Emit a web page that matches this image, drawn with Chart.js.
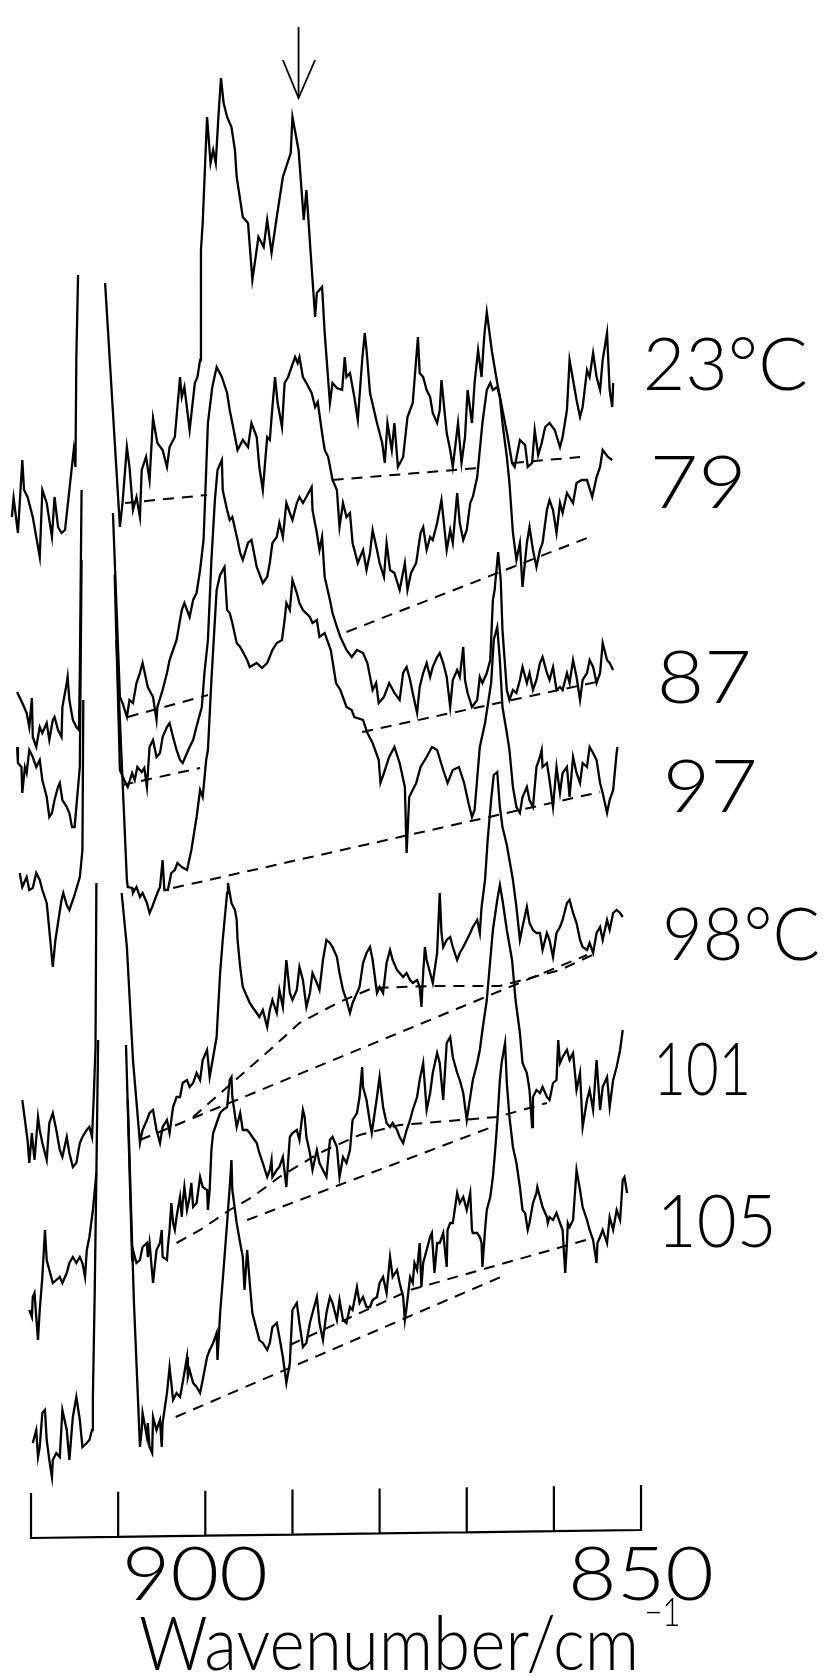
<!DOCTYPE html>
<html>
<head>
<meta charset="utf-8">
<title>IR spectra vs temperature</title>
<script src="https://cdn.jsdelivr.net/npm/chart.js@4.4.1/dist/chart.umd.min.js"></script>
<style>
  html, body { margin: 0; padding: 0; background: #fff; }
  canvas { display: block; }
</style>
</head>
<body>
<canvas id="spectra" width="829" height="1678"></canvas>
<script>
// x: wavenumber / cm-1, y: absorbance (arbitrary, spectra offset vertically)
// a [wn, null] point marks where the pen ran off scale on the strong band

const axisTicks = [920, 910, 900, 890, 880, 870, 860, 850];
const axisBase = [0.62, 0.70];   // baseline height at 920 and at 850
const tickHeight = 0.45;
const tickLabels = ['900', '850'];
const tickLabelWn = [901.2, 850.0];

const tempLabels = ['23°C', '79', '87', '97', '98°C', '101', '105'];
const tempLabelWn = [849.8, 849.0, 848.2, 847.5, 847.6, 848.6, 848.2];
const tempLabelAb = [12.10, 10.92, 8.97, 7.88, 6.40, 5.05, 3.53];
const tempLabelWidth = [165, 97, 95, 95, 158, 98, 120];

const s23 = [
  [922.2,10.83],[922.0,11.02],[921.5,10.67],[921.0,11.40],[920.8,11.10],[920.4,11.03],[919.8,10.83],[919.0,10.43],[918.7,11.10],[918.2,10.97],
  [917.6,10.63],[917.3,11.03],[916.9,10.73],[916.5,10.67],[916.1,10.70],[915.6,11.10],[915.1,11.50],[914.9,11.33],[914.8,12.43],[914.6,13.25],
  [913.0,null],
  [911.5,13.17],[909.8,10.73],[909.5,10.97],[909.0,11.53],[908.7,11.33],[908.3,10.90],[907.9,11.03],[907.5,10.83],[907.3,11.30],[906.8,11.43],
  [906.4,11.20],[906.0,11.82],[905.5,11.57],[904.9,11.50],[904.4,11.33],[904.1,11.53],[903.5,11.63],[902.9,12.23],[902.7,12.03],[902.4,12.13],
  [901.8,11.70],[901.2,12.17],[900.9,12.23],[900.6,12.40],
  [900.5,13.50],[900.3,13.77],[899.8,14.83],[899.4,14.37],[899.1,14.50],[898.8,14.37],[898.5,14.83],[898.2,15.22],[897.9,14.97],[897.5,14.83],
  [897.0,14.73],[896.6,14.50],[896.4,14.23],[895.7,13.83],[895.1,13.77],[894.6,13.20],[893.9,13.63],[893.3,13.53],[892.9,13.80],[892.4,13.47],
  [891.8,13.83],[891.1,14.23],[890.2,14.47],[890.0,14.83],[889.3,14.50],[888.7,13.80],[888.4,14.10],[887.8,13.33],[887.4,12.83],[887.2,13.07],
  [886.6,13.13],[886.3,12.67],[885.7,11.97],[885.4,12.17],[884.9,12.12],[884.3,12.10],[884.0,12.43],[883.8,12.23],[883.4,12.27],[882.9,12.03],
  [882.5,11.80],[882.0,12.40],[881.7,12.67],[881.5,12.50],[881.1,12.07],[880.3,11.77],[879.7,11.57],[879.4,11.37],[879.1,11.77],[878.6,11.50],
  [878.3,11.77],[877.9,11.33],[877.3,11.43],[876.8,11.83],[876.2,11.97],[875.6,12.63],[875.4,12.27],[875.0,12.23],[874.6,12.10],[874.2,12.03],
  [873.9,11.87],[873.4,11.77],[873.1,11.90],[872.9,12.20],[872.3,11.67],[871.9,11.50],[871.6,11.33],[871.0,11.77],[870.6,11.37],[870.2,11.63],
  [869.9,12.10],[869.4,11.77],[869.1,12.17],[868.7,12.50],[868.3,12.23],[868.0,12.63],[867.7,12.88],
  [867.1,12.48],[866.5,12.17],[865.9,11.90],[865.3,11.63],[864.8,11.37],[864.5,11.33],[863.9,11.60],[863.3,11.55],[863.0,11.33],[862.5,11.37],
  [862.2,11.70],[861.8,11.45],[861.4,11.57],[861.0,11.73],[860.5,11.77],[859.9,11.70],[859.3,11.53],[859.0,11.63],[858.5,11.90],[858.2,12.40],
  [857.8,12.20],[857.4,12.00],[857.0,11.83],[856.7,11.93],[856.2,12.30],[855.9,12.23],[855.5,12.47],[855.1,12.23],[854.7,12.10],[854.4,12.40],
  [853.9,12.67],[853.6,12.10],[853.3,11.93],[853.2,12.17]
];

const s79 = [
  [921.6,9.08],[921.0,8.97],[920.5,8.87],[920.2,8.73],[919.9,9.02],[919.8,8.63],[919.4,8.53],[919.0,8.73],[918.7,8.67],[918.2,8.77],
  [917.9,8.60],[917.5,8.80],[917.3,8.83],[916.9,8.70],[916.5,8.63],[916.4,8.93],[915.9,9.17],[915.8,9.23],[915.6,9.00],[915.2,8.80],
  [914.8,8.73],[914.5,8.70],[914.4,9.27],[914.2,11.10],
  [912.5,null],
  [910.6,10.87],[909.8,9.03],[909.5,8.97],[909.0,8.83],[908.7,9.00],[908.3,8.97],[907.9,9.17],[907.5,9.27],[907.2,9.37],[906.6,9.13],
  [906.0,9.03],[905.6,8.80],[905.5,8.93],[904.9,9.10],[904.4,9.27],[904.1,9.40],[903.7,9.50],[903.3,9.60],[902.7,9.90],[902.4,9.97],
  [901.8,9.83],[901.4,10.00],[901.0,10.07],[900.6,10.30],[900.2,10.60],[899.7,11.77],[899.2,12.13],[898.7,12.33],[898.1,12.23],[897.5,12.07],
  [897.2,11.90],[896.9,11.77],[896.3,11.50],[895.7,11.60],[895.1,11.53],[894.7,11.77],[894.1,11.63],[893.8,11.33],[893.4,11.10],[892.9,11.63],
  [892.6,11.60],[892.3,11.93],[892.0,12.23],[891.7,11.97],[891.2,11.73],[890.9,12.17],[890.5,12.23],[890.1,12.33],[889.7,12.43],[889.4,12.37],
  [889.2,12.43],[888.8,12.23],[888.4,12.17],[887.8,12.07],[887.4,11.93],[887.1,11.98],[886.6,11.67],[886.3,11.50],[885.9,11.43],[885.4,11.20],
  [884.9,11.10],[884.6,10.73],[884.2,10.97],[883.8,10.83],[883.4,10.87],[883.1,10.57],[882.5,10.37],[881.9,10.50],[881.5,10.30],[881.1,10.47],
  [880.8,10.70],[880.3,10.50],[880.0,10.37],[879.5,10.23],[879.2,10.57],[878.8,10.30],[878.3,10.27],[877.7,10.10],[877.1,10.37],[876.8,10.10],
  [876.4,10.27],[875.8,10.37],[875.3,10.67],[875.0,10.73],[874.6,10.50],[874.2,10.63],[873.9,10.60],[873.4,10.77],[872.9,11.00],[872.3,10.50],
  [871.9,10.70],[871.6,10.57],[871.1,11.07],[870.8,10.77],[870.4,10.60],[870.0,10.70],[869.6,10.97],[869.3,11.03],[868.8,11.23],[868.5,11.50],
  [868.2,11.77],[867.7,12.10],[867.3,12.17],[867.0,12.10],[866.5,12.13],[866.2,12.03],[865.9,11.77],[865.4,11.43],[865.1,11.17],[864.7,10.67],
  [864.3,10.40],[863.9,10.57],[863.6,10.13],[863.1,10.57],[862.8,10.73],[862.4,10.50],[862.0,10.33],[861.6,10.50],[861.3,10.57],[860.8,10.90],
  [860.5,11.00],[860.1,10.90],[859.7,10.67],[859.3,10.97],[859.0,10.87],[858.5,11.07],[857.8,10.97],[857.4,11.17],[856.8,11.20],[856.2,11.20],
  [855.6,11.03],[855.1,11.23],[854.7,11.33],[854.4,11.50],[853.8,11.43],[853.3,11.40]
];

const s87 = [
  [921.6,8.53],[921.5,8.37],[921.1,8.33],[921.0,8.07],[920.7,8.33],[920.5,8.27],[920.2,8.50],[919.8,8.43],[919.4,8.33],[919.0,8.40],
  [918.7,8.20],[918.2,8.03],[917.9,7.83],[917.6,7.87],[917.3,8.00],[916.9,8.13],[916.7,8.17],[916.4,8.00],[915.9,7.93],[915.6,7.87],
  [915.3,7.73],[915.0,7.73],[914.6,8.13],[914.4,8.33],[914.2,10.40],
  [912.5,null],
  [910.4,10.25],[909.8,8.30],[909.3,8.20],[908.9,8.13],[908.4,8.27],[908.1,8.20],[907.8,8.33],[907.3,8.28],[907.0,8.32],[906.7,8.13],
  [906.4,8.53],[906.0,8.60],[905.6,8.43],[905.2,8.47],[904.9,8.63],[904.4,8.73],[904.1,8.77],[903.7,8.63],[903.3,8.50],[902.9,8.40],
  [902.6,8.37],[902.1,8.47],[901.8,8.53],[901.4,8.60],[900.9,8.77],[900.4,8.93],[900.1,9.27],[899.7,9.60],[899.3,10.40],[898.9,11.00],
  [898.6,11.30],[898.1,11.40],[898.0,11.10],[897.5,10.90],[897.2,10.80],[896.9,10.83],[896.3,10.60],[896.0,10.47],[895.7,10.40],[895.1,10.57],
  [894.7,10.60],[894.1,10.33],[893.4,10.17],[892.9,10.23],[892.6,10.37],[892.3,10.57],[891.8,10.63],[891.5,10.77],[891.1,10.63],[890.7,10.97],
  [890.3,10.87],[890.0,10.80],[889.5,10.97],[889.2,11.03],[888.8,10.97],[888.4,11.03],[887.8,11.13],[887.7,10.90],[887.2,10.67],[886.9,10.50],
  [886.6,10.63],[886.3,10.23],[885.7,10.00],[885.4,9.87],[884.9,9.73],[884.5,9.63],[883.8,9.50],[883.2,9.43],[882.6,9.50],[881.9,9.47],
  [881.4,9.37],[880.8,9.10],[880.4,9.17],[880.1,8.97],[879.5,9.03],[878.9,9.17],[878.3,9.07],[877.7,9.00],[877.3,9.27],[876.9,9.33],
  [876.5,9.20],[876.2,9.07],[875.7,8.87],[875.4,9.13],[875.0,9.27],[874.6,9.37],[874.2,9.23],[873.9,9.33],[873.4,9.43],[873.1,9.47],
  [872.7,9.37],[872.3,9.23],[871.9,8.93],[871.6,9.20],[871.1,9.30],[870.8,9.23],[870.4,9.53],[870.2,9.20],[869.9,9.07],[869.4,8.93],
  [868.8,9.00],[868.5,9.23],[868.2,9.17],[867.7,9.27],[867.3,9.40],[867.0,10.00],[866.8,10.10],[866.4,10.48],[866.1,10.20],[865.9,9.70],
  [865.4,9.10],[865.1,9.00],[864.7,9.10],[864.3,9.07],[863.9,9.20],[863.6,9.33],[863.1,9.17],[862.8,9.27],[862.4,9.10],[862.0,9.20],
  [861.6,9.37],[861.3,9.43],[860.8,9.27],[860.5,9.20],[860.1,9.33],[859.7,9.10],[859.3,9.13],[859.0,9.10],[858.5,9.27],[858.2,9.17],
  [857.8,9.40],[857.4,9.23],[857.0,9.00],[856.7,9.20],[856.2,9.27],[855.9,9.40],[855.5,9.33],[855.1,9.17],[854.7,9.27],[854.4,9.57],
  [853.9,9.40],[853.6,9.37],[853.2,9.30]
];

const s97 = [
  [921.3,7.27],[921.0,7.13],[920.5,7.23],[920.2,7.10],[919.8,7.12],[919.4,7.27],[919.0,7.20],[918.7,7.10],[918.2,6.97],[917.9,6.70],
  [917.5,6.33],[917.2,6.60],[916.8,6.83],[916.5,7.00],[916.3,7.07],[915.9,6.95],[915.6,6.90],[915.0,7.05],[914.4,7.23],[914.1,7.50],
  [914.0,9.00],
  [912.0,null],
  [910.2,9.60],[909.0,7.20],[908.9,7.13],[908.4,7.12],[908.3,7.07],[907.9,7.13],[907.5,7.03],[907.2,7.07],[906.7,6.97],[906.4,6.87],
  [906.1,6.93],[905.8,7.00],[905.5,7.07],[905.2,7.13],[904.9,7.40],[904.7,7.10],[904.3,7.10],[903.9,7.27],[903.5,7.30],[903.2,7.37],
  [902.7,7.33],[902.1,7.30],[901.6,7.50],[901.0,7.83],[900.6,8.10],[900.3,8.03],[899.9,8.40],[899.7,8.50],[899.3,9.20],[898.7,10.10],
  [898.3,10.25],[897.8,10.33],[897.5,9.90],[897.2,9.87],[896.9,9.77],[896.4,9.57],[896.0,9.53],[895.2,9.40],[894.9,9.33],[894.1,9.37],
  [893.5,9.32],[892.9,9.37],[892.3,9.50],[891.8,9.57],[891.2,9.60],[890.9,9.80],[890.7,9.97],[890.3,9.90],[890.0,10.20],[889.5,10.07],
  [889.2,9.97],[888.8,9.90],[888.0,9.83],[887.7,9.77],[887.2,9.80],[886.9,9.63],[886.3,9.67],[885.6,9.50],[885.0,9.17],[884.5,9.10],
  [883.8,8.93],[883.2,8.90],[882.9,8.83],[881.9,8.80],[881.4,8.67],[880.8,8.57],[880.1,8.40],[879.9,8.17],[879.5,8.27],[878.9,8.43],
  [878.3,8.53],[877.7,8.37],[877.1,8.13],[876.9,7.47],[876.6,8.03],[876.2,8.10],[875.8,8.17],[875.3,8.33],[874.6,8.43],[874.0,8.53],
  [873.4,8.50],[872.7,8.30],[872.2,8.17],[871.6,8.30],[870.9,8.33],[870.3,8.17],[869.8,7.97],[869.4,7.83],[869.1,7.90],[868.5,8.53],
  [867.9,8.77],[867.2,9.17],[866.9,9.60],[866.5,9.73],[866.2,9.40],[865.9,8.93],[865.4,8.67],[865.1,8.50],[864.7,8.13],[864.3,7.93],
  [863.9,7.87],[863.6,8.03],[863.1,8.13],[862.8,8.00],[862.4,7.93],[862.0,8.33],[861.6,8.43],[861.4,8.50],[861.3,8.33],[860.8,8.37],
  [860.5,8.20],[860.1,7.93],[859.7,8.33],[859.3,8.07],[859.0,8.27],[858.5,8.33],[858.2,8.03],[857.8,8.43],[857.4,8.27],[857.0,8.17],
  [856.7,8.37],[856.2,8.33],[855.9,8.53],[855.5,8.47],[855.1,8.40],[854.7,8.17],[854.4,8.07],[853.9,7.87],[853.6,8.00],[853.2,8.10],
  [852.8,8.47],[852.7,8.53]
];

const s98 = [
  [921.0,5.00],[920.7,4.80],[920.4,4.60],[920.2,4.37],[919.9,4.67],[919.8,4.57],[919.6,4.40],[919.2,4.83],[919.0,4.70],[918.7,4.57],
  [918.2,4.40],[917.9,4.77],[917.5,4.87],[917.1,4.70],[916.7,4.50],[916.4,4.43],[915.9,4.63],[915.6,4.47],[915.2,4.33],[914.8,4.37],
  [914.4,4.57],[914.1,4.63],[913.6,4.70],[913.3,4.73],[913.0,4.63],[912.8,5.03],[912.6,5.53],[912.5,7.17],
  [911.0,null],
  [909.6,7.07],[909.0,6.53],[908.3,5.40],[907.5,4.57],[907.2,4.70],[906.7,4.80],[906.4,4.87],[906.0,4.90],[905.6,4.70],[905.2,4.57],
  [904.9,4.73],[904.4,4.80],[904.1,4.67],[903.7,4.93],[903.3,5.03],[902.9,5.03],[902.6,5.17],[902.1,5.20],[901.8,5.13],[901.4,5.17],
  [901.0,5.27],[900.6,5.20],[900.3,5.40],[899.8,5.50],[899.5,5.23],[899.1,5.43],[898.7,5.63],[898.6,5.80],[898.3,6.27],[898.0,6.60],
  [897.5,7.07],[897.4,7.17],[897.0,6.97],[896.6,6.90],[896.4,6.80],[896.3,6.60],[896.0,6.33],[895.7,6.13],[895.2,6.03],[894.9,5.97],
  [894.6,5.93],[894.1,5.87],[893.8,5.83],[893.4,5.90],[892.9,5.73],[892.6,5.90],[892.3,6.00],[891.8,5.87],[891.5,6.10],[891.1,5.93],
  [890.7,6.40],[890.3,6.07],[890.0,6.00],[889.5,6.10],[889.2,6.33],[888.8,6.20],[888.4,5.93],[888.0,6.07],[887.7,6.27],[887.2,6.17],
  [886.9,6.10],[886.5,6.40],[886.1,6.60],[885.7,6.57],[885.4,6.53],[884.9,6.43],[884.6,6.27],[884.2,6.10],[883.8,6.00],[883.4,5.87],
  [883.1,5.97],[882.6,6.07],[882.3,6.13],[881.9,6.37],[881.5,6.47],[881.1,6.53],[880.8,6.40],[880.3,6.07],[880.0,6.13],[879.6,6.07],
  [879.2,6.37],[878.8,6.50],[878.5,6.40],[878.0,6.30],[877.7,6.27],[877.3,6.23],[876.9,6.27],[876.5,6.20],[876.2,6.17],[875.7,6.20],
  [875.4,6.13],[875.2,5.93],[875.0,6.27],[874.8,6.53],[874.6,6.40],[874.2,6.27],[873.9,6.17],[873.4,6.47],[873.1,7.07],[872.9,6.67],
  [872.7,6.53],[872.3,6.60],[871.9,6.63],[871.6,6.53],[871.1,6.40],[870.8,6.47],[870.4,6.53],[870.0,6.60],[869.6,6.67],[869.3,6.73],
  [868.8,6.80],[868.5,6.67],[868.3,6.93],[867.9,7.20],[867.6,7.60],[867.2,8.00],[866.9,8.25],[866.5,8.28],[866.2,7.93],[865.9,7.73],
  [865.4,7.55],[865.1,7.40],[864.7,7.20],[864.3,6.93],[863.9,6.60],[863.6,6.73],[863.1,6.93],[862.8,6.77],[862.4,6.70],[862.0,6.67],
  [861.6,6.67],[861.3,6.50],[860.8,6.67],[860.5,6.60],[860.1,6.43],[859.7,6.67],[859.3,6.73],[859.0,6.80],[858.5,6.97],[858.2,7.00],
  [857.8,6.87],[857.4,6.77],[857.0,6.60],[856.7,6.53],[856.2,6.50],[855.9,6.57],[855.5,6.47],[855.1,6.67],[854.7,6.73],[854.4,6.60],
  [853.9,6.80],[853.6,6.70],[853.2,6.87],[852.8,6.90],[852.4,6.87],[852.1,6.83]
];

const s101 = [
  [920.2,2.90],[919.9,2.83],[919.8,3.03],[919.6,3.07],[919.4,2.83],[919.2,2.60],[919.0,2.90],[918.7,3.23],[918.4,3.70],[918.2,3.40],
  [917.9,3.30],[917.5,3.17],[917.1,3.20],[916.7,3.23],[916.4,3.17],[915.9,3.27],[915.6,3.37],[915.2,3.43],[914.8,3.37],[914.4,3.43],
  [914.1,3.37],[913.8,3.23],[913.6,3.50],[913.3,3.63],[912.9,3.90],[912.5,4.27],[912.3,5.60],
  [910.5,null],
  [909.1,5.55],[908.4,3.40],[908.3,3.50],[907.9,3.37],[907.5,3.40],[907.2,3.53],[906.7,3.57],[906.6,3.43],[906.4,3.57],[906.0,3.17],
  [905.6,3.50],[905.2,3.57],[905.0,3.70],[904.9,3.43],[904.4,3.40],[904.3,3.53],[904.1,3.70],[903.9,3.97],[903.7,3.77],[903.5,3.70],
  [903.3,3.83],[902.9,4.03],[902.7,3.83],[902.6,3.97],[902.4,4.13],[902.1,3.90],[901.8,4.03],[901.6,4.17],[901.4,3.93],[901.0,3.97],
  [900.6,4.23],[900.3,4.13],[899.8,4.10],[899.7,3.90],[899.5,4.10],[899.3,4.50],[899.1,4.67],[898.7,4.77],[898.3,4.87],[898.0,4.90],
  [897.5,4.93],[897.2,5.20],[897.0,5.23],[896.9,5.03],[896.4,4.73],[896.0,4.87],[895.7,4.70],[895.2,4.70],[894.9,4.67],[894.6,4.63],
  [894.1,4.57],[893.8,4.47],[893.4,4.37],[892.9,4.23],[892.6,4.30],[892.4,4.40],[892.3,4.23],[891.8,4.30],[891.5,4.33],[891.1,4.43],
  [890.7,4.13],[890.3,4.63],[890.0,4.67],[889.5,4.70],[889.2,4.60],[888.8,4.90],[888.6,4.83],[888.4,4.63],[888.0,4.47],[887.7,4.30],
  [887.2,4.50],[886.9,4.37],[886.5,4.30],[886.1,4.23],[885.7,4.60],[885.4,4.63],[884.9,4.53],[884.6,4.23],[884.2,4.43],[883.8,4.37],
  [883.4,4.50],[883.1,4.80],[882.6,4.87],[882.3,5.03],[882.0,5.33],[881.9,5.13],[881.5,5.00],[881.1,4.77],[880.9,4.67],[880.8,4.73],
  [880.3,5.03],[880.0,5.23],[879.6,4.93],[879.2,4.77],[878.8,4.73],[878.5,4.77],[878.0,4.70],[877.7,4.63],[877.3,4.57],[876.9,4.70],
  [876.5,4.80],[876.2,4.90],[875.7,5.03],[875.4,5.20],[875.0,5.37],[874.6,4.90],[874.2,5.07],[873.9,5.27],[873.4,5.47],[873.1,5.37],
  [872.7,5.00],[872.3,5.57],[871.9,5.63],[871.6,5.43],[871.1,5.27],[870.8,5.20],[870.4,5.07],[870.0,4.80],[869.6,5.03],[869.3,5.20],
  [868.8,5.37],[868.5,5.50],[868.2,5.70],[867.7,6.00],[867.3,6.40],[867.0,6.70],[866.5,7.00],[866.2,7.15],[865.9,7.00],[865.4,6.70],
  [864.8,6.40],[864.4,6.00],[863.9,5.67],[863.6,5.37],[863.1,5.27],[862.8,5.10],[862.5,4.73],[862.4,5.03],[862.0,5.10],[861.6,5.07],
  [861.3,5.13],[860.8,5.03],[860.5,5.00],[860.1,5.17],[859.7,5.20],[859.5,5.60],[859.3,5.37],[859.0,5.43],[858.5,5.50],[858.2,5.40],
  [857.8,5.47],[857.4,5.10],[857.0,5.27],[856.7,4.73],[856.2,5.00],[855.9,5.10],[855.5,4.90],[855.1,5.40],[854.7,4.90],[854.4,5.13],
  [853.9,5.23],[853.6,4.93],[853.2,5.20],[852.8,5.33],[852.4,5.50],[852.1,5.70]
];

const s105 = [
  [919.8,1.57],[919.4,1.70],[919.2,1.43],[919.0,1.53],[918.7,1.87],[918.4,1.90],[918.2,1.60],[917.9,1.40],[917.6,1.23],[917.5,1.40],
  [917.1,1.47],[916.7,1.43],[916.4,1.90],[915.9,1.70],[915.6,1.40],[915.2,1.83],[914.8,2.03],[914.4,1.80],[914.1,1.53],[913.6,1.57],
  [913.3,1.60],[913.0,1.70],[912.9,2.03],[912.7,3.03],[912.5,4.27],
  [910.5,null],
  [908.9,5.00],[908.2,3.00],[907.5,1.53],[907.3,1.70],[907.2,1.87],[906.7,1.63],[906.6,1.77],[906.4,1.53],[906.1,1.47],[906.0,1.83],
  [905.6,1.70],[905.2,1.80],[905.0,1.53],[904.9,1.77],[904.4,2.07],[904.1,2.33],[903.9,2.17],[903.7,2.00],[903.3,2.07],[902.9,2.03],
  [902.6,2.17],[902.1,2.43],[902.0,2.23],[901.8,2.30],[901.4,2.17],[901.0,2.13],[900.6,2.07],[900.3,2.20],[899.8,2.43],[899.5,2.50],
  [899.1,2.57],[898.7,2.67],[898.6,2.40],[898.3,2.87],[898.0,3.20],[897.5,3.77],[897.2,4.13],[897.0,4.40],[896.9,4.10],[896.4,3.77],
  [896.0,3.57],[895.7,3.43],[895.5,3.10],[895.2,3.50],[894.9,3.17],[894.6,2.87],[894.1,2.70],[893.8,2.60],[893.4,2.57],[892.9,2.50],
  [892.6,2.57],[892.3,2.73],[891.8,2.77],[891.5,2.63],[891.1,2.43],[890.7,2.17],[890.3,2.37],[890.0,2.90],[889.5,2.97],[889.2,2.77],
  [888.8,2.53],[888.4,2.57],[888.0,2.77],[887.7,2.87],[887.2,3.03],[886.9,2.77],[886.5,2.60],[886.1,2.87],[885.7,3.03],[885.4,2.97],
  [884.9,2.80],[884.6,3.00],[884.2,2.80],[883.8,2.77],[883.4,2.93],[883.1,2.90],[882.6,3.13],[882.3,2.97],[881.9,3.03],[881.5,2.93],
  [881.1,2.93],[880.8,3.00],[880.3,3.03],[880.0,3.17],[879.6,3.23],[879.2,3.07],[878.8,3.43],[878.5,3.23],[878.0,3.30],[877.7,3.17],
  [877.3,3.03],[877.1,2.80],[876.9,2.93],[876.5,3.23],[876.2,3.17],[876.0,3.37],[875.7,3.30],[875.4,3.57],[875.2,3.13],[875.0,3.37],
  [874.6,3.50],[874.2,3.63],[874.0,3.67],[873.9,3.53],[873.7,3.27],[873.4,3.57],[873.1,3.57],[872.7,3.67],[872.3,3.33],[872.2,3.70],
  [871.9,3.77],[871.6,3.77],[871.1,4.07],[870.8,3.97],[870.4,4.03],[870.0,3.90],[869.6,4.07],[869.4,3.70],[869.3,3.67],[868.8,3.67],
  [868.5,3.63],[868.3,3.57],[868.2,3.33],[867.9,3.70],[867.7,3.90],[867.3,4.03],[867.0,4.23],[866.8,4.43],[866.5,4.77],[866.2,5.20],
  [866.0,5.37],[865.6,5.57],[865.4,5.17],[865.1,4.83],[864.7,4.53],[864.3,4.37],[863.9,4.13],[863.6,3.90],[863.3,3.87],[863.0,3.70],
  [862.8,3.77],[862.4,3.97],[862.0,4.07],[861.9,4.13],[861.6,4.03],[861.3,3.93],[860.8,3.83],[860.7,3.77],[860.5,3.83],[860.1,3.80],
  [859.7,3.87],[859.3,3.77],[859.0,3.70],[858.7,3.27],[858.5,3.57],[858.4,3.77],[858.2,3.73],[857.8,3.80],[857.4,4.30],[857.2,4.20],
  [857.0,4.10],[856.7,3.93],[856.2,3.80],[855.9,3.70],[855.5,3.60],[855.1,3.37],[855.0,3.57],[854.7,3.63],[854.4,3.70],[853.9,3.57],
  [853.6,3.83],[853.2,3.70],[852.8,3.90],[852.4,3.80],[852.1,4.20],[851.9,4.23],[851.6,4.07]
];

// hand-drawn baselines under the bands
const baselines = [
  [[909.2,10.97],[899.8,11.05]],
  [[885.4,11.20],[868.7,11.32]],
  [[864.7,11.37],[857.0,11.43]],
  [[908.9,8.83],[899.7,9.05]],
  [[883.8,9.68],[856.2,10.62]],
  [[909.5,8.15],[900.6,8.32]],
  [[882.0,8.68],[855.1,9.18]],
  [[903.7,7.12],[854.7,8.08]],
  [[901.4,4.83],[897.2,5.15],[892.6,5.50],[889.2,5.77],[884.6,5.98],[880.8,6.12],[874.2,6.14],[866.2,6.14],[859.3,6.30],[855.1,6.47]],
  [[907.5,4.60],[856.2,6.45]],
  [[903.3,3.57],[900.6,3.70],[897.2,3.90],[894.6,4.03],[891.5,4.23],[886.9,4.47],[882.3,4.65],[877.7,4.75],[866.5,4.83],[860.8,4.97]],
  [[895.2,3.80],[866.5,4.75]],
  [[903.4,1.83],[866.1,3.23]],
  [[890.3,2.55],[876.5,3.10],[855.5,3.62]]
];

// arrow marking the band at 889 cm-1
const arrowShaft = [[889.3,15.73],[889.3,15.02]];
const arrowHead = [[891.1,15.40],[889.3,15.02],[887.4,15.40]];

const FONT = 'Lato, "Open Sans", "DejaVu Sans", sans-serif';

function toPoints(pairs) {
  return pairs.map(p => ({ x: p[0], y: p[1] }));
}

function axisPoints() {
  const pts = [];
  const first = axisTicks[0], last = axisTicks[axisTicks.length - 1];
  axisTicks.forEach(t => {
    const base = axisBase[0] + (axisBase[1] - axisBase[0]) * (first - t) / (first - last);
    pts.push({ x: t, y: base }, { x: t, y: base + tickHeight }, { x: t, y: base });
  });
  return pts;
}

function solid(data, width) {
  return { data, borderColor: '#000', borderWidth: width, pointRadius: 0, fill: false, spanGaps: false };
}

function dashed(data) {
  return { data, borderColor: '#000', borderWidth: 2, borderDash: [11, 8], pointRadius: 0, fill: false };
}

// draw text with its width fitted to a target
function fitText(ctx, text, px, py, size, width, align) {
  ctx.font = `300 ${size}px ${FONT}`;
  const natural = ctx.measureText(text).width;
  const sx = width ? width / natural : 1;
  ctx.save();
  ctx.translate(px, py);
  ctx.scale(sx, 1);
  ctx.textAlign = align;
  ctx.textBaseline = 'alphabetic';
  ctx.fillText(text, 0, 0);
  ctx.restore();
}

const textPlugin = {
  id: 'spectrumText',
  afterDatasetsDraw(chart) {
    const { ctx } = chart;
    const x = chart.scales.x, y = chart.scales.y;
    ctx.save();
    ctx.fillStyle = '#000';

    tempLabels.forEach((t, i) => {
      fitText(ctx, t, x.getPixelForValue(tempLabelWn[i]), y.getPixelForValue(tempLabelAb[i]), 73, tempLabelWidth[i], 'left');
    });

    tickLabels.forEach((t, i) => {
      fitText(ctx, t, x.getPixelForValue(tickLabelWn[i]), y.getPixelForValue(0.0), 75, 146, 'center');
    });

    // axis title with superscript −1
    fitText(ctx, 'Wavenumber/cm', x.getPixelForValue(907.6), y.getPixelForValue(-0.70), 74, 500, 'left');
    fitText(ctx, '\u22121', x.getPixelForValue(849.6), y.getPixelForValue(-0.26), 40, 36, 'left');
    ctx.restore();
  }
};

function makeChart() {
  const datasets = [
    solid(toPoints(s23), 2.3),
    solid(toPoints(s79), 2.3),
    solid(toPoints(s87), 2.3),
    solid(toPoints(s97), 2.3),
    solid(toPoints(s98), 2.3),
    solid(toPoints(s101), 2.3),
    solid(toPoints(s105), 2.3),
    ...baselines.map(b => dashed(toPoints(b))),
    solid(axisPoints(), 2.2),
    solid(toPoints(arrowShaft), 1.8),
    solid(toPoints(arrowHead), 1.8)
  ];

  new Chart(document.getElementById('spectra'), {
    type: 'line',
    data: { datasets },
    options: {
      responsive: false,
      animation: false,
      devicePixelRatio: 1,
      layout: { padding: 0 },
      elements: { line: { tension: 0 }, point: { radius: 0 } },
      plugins: { legend: { display: false }, tooltip: { enabled: false } },
      scales: {
        x: { type: 'linear', reverse: true, min: 828.43, max: 923.56, display: false },
        y: { type: 'linear', min: -0.78, max: 16, display: false }
      }
    },
    plugins: [textPlugin]
  });
}

if (document.fonts && document.fonts.load) {
  document.fonts.load(`300 72px ${FONT}`).then(makeChart, makeChart);
} else {
  makeChart();
}
</script>
</body>
</html>
